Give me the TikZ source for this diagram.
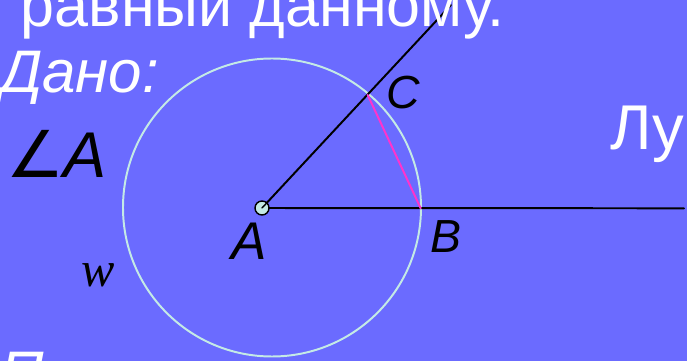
\documentclass[tikz,border=0pt]{standalone}
\usepackage{fontspec}
\setmainfont{Liberation Sans}
\newfontfamily\serifw{Liberation Serif}
\newfontfamily\symbfont{DejaVu Sans}
\definecolor{bgblue}{RGB}{107,107,255}
\definecolor{lcyan}{RGB}{196,234,230}
\definecolor{mgnta}{RGB}{255,51,204}
\tikzset{
  lbl/.style={anchor=base west, inner sep=0pt, outer sep=0pt},
  wtxt/.style={lbl, text=white},
}
\begin{document}
\begin{tikzpicture}[line cap=round,line join=round,x=0.025cm,y=-0.025cm]
	\clip (0,0) rectangle (687,361);
	\fill [bgblue] (0,0) rectangle (687,361);
	% points
	\coordinate (A) at (262,208);
	\coordinate (O) at (272,207.5);
	\coordinate (B) at (420.7,208.3);
	\coordinate (C) at (367.7,95);
	\coordinate (E) at (451,5);
	\coordinate (R) at (684,208.3);
	% circle w
	\draw [line width=1.4pt, color=lcyan] (O) circle (149);
	% ray and side
	\draw [line width=1.4pt] (A) -- (E);
	\draw [line width=1.4pt] (A) -- (R);
	\draw [line width=1.4pt, color=mgnta] (C) -- (B);
	\draw [line width=1.pt, fill=lcyan] (A) circle (7);
	\draw [line width=1.pt] (A) -- ++(4.5,-4.8);
	% texts
	\node [wtxt, font=\fontsize{43.4}{52}\selectfont] (t1) at (21,27) {равный данному.};
	\node [wtxt, font=\fontsize{42.7}{51}\selectfont\itshape] (dano) at (0,93) {Дано:};
	\node [lbl, font=\fontsize{46}{55}\selectfont] (ang) at (6,178) {{\symbfont ∠}\textit{A}};
	\node [wtxt, font=\fontsize{45}{54}\selectfont] (lu) at (610,150) {Лу};
	\node [wtxt, font=\fontsize{42.7}{51}\selectfont\itshape] (p) at (0,394) {П};
	\node [lbl, font=\fontsize{37.7}{45}\selectfont\itshape] (la) at (231,260) {A};
	\node [lbl, font=\fontsize{33}{40}\selectfont\itshape] (lb) at (430,253) {B};
	\node [lbl, font=\fontsize{33}{40}\selectfont\itshape] (lc) at (386,109) {C};
	\node [lbl, font=\fontsize{35.5}{42}\selectfont\serifw\itshape] (lw) at (81,287) {w};
\end{tikzpicture}
\end{document}
